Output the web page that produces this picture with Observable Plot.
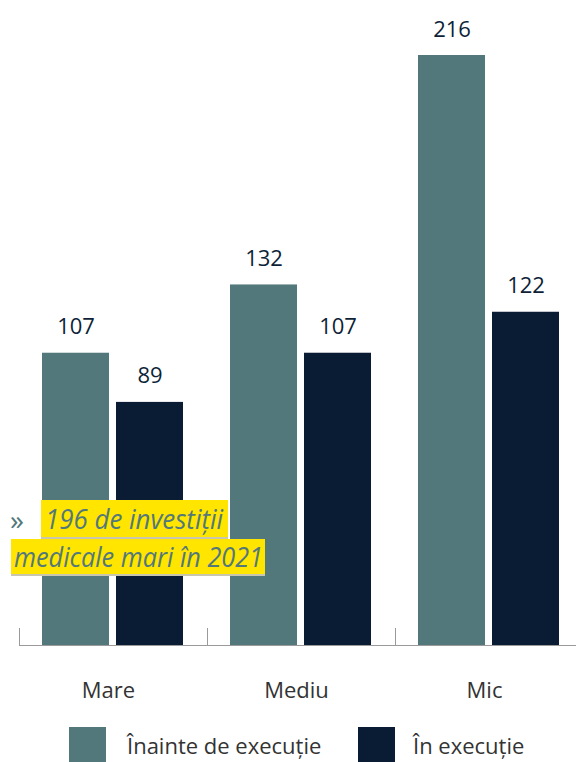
<!DOCTYPE html>
<html>
<head>
<meta charset="utf-8">
<script src="https://cdn.jsdelivr.net/npm/d3@7"></script>
<script src="https://cdn.jsdelivr.net/npm/@observablehq/plot@0.6"></script>
<style>
  html, body { margin: 0; padding: 0; background: #fff; }
  #wrap { position: relative; width: 576px; height: 762px; overflow: hidden; font-family: 'Open Sans', sans-serif; }
  #chart svg { display: block; }
  #legend { position: absolute; left: 0; top: 727px; width: 576px; height: 40px; }
  .sw { position: absolute; top: 0; width: 37px; height: 37px; }
  .lt { position: absolute; top: 0; line-height: 36px; font-size: 22px; color: #333; white-space: nowrap; }
  .nb { position: absolute; background: #ffe500; border-bottom: 2px solid #c9c6b0; box-sizing: border-box; overflow: visible; }
  .nb span { position: absolute; top: 0; white-space: nowrap; font-style: italic; font-size: 28px; color: #52787b; transform-origin: 0 0; }
  #arrow { position: absolute; left: 10px; top: 500px; font-size: 28px; color: #52787b; line-height: 38px; }
</style>
</head>
<body>
<div id="wrap">
  <div id="chart"></div>
  <div id="legend"></div>
  <div id="arrow">»</div>
  <div class="nb" id="n1" style="left:41px;top:500px;width:187px;height:39px;"><span id="t1" style="left:4px;line-height:37px;">196 de investiții</span></div>
  <div class="nb" id="n2" style="left:11px;top:539px;width:254px;height:37px;"><span id="t2" style="left:3px;line-height:34px;">medicale mari în 2021</span></div>
</div>
<script>
const categories = ["Mare", "Mediu", "Mic"];
const series = ["Înainte de execuție", "În execuție"];
const beforeExec = [107, 132, 216];
const inExec = [89, 107, 122];
const colors = ["#52787b", "#0a1c33"];

const data = categories.flatMap((c, i) => [
  {cat: c, s: series[0], v: beforeExec[i]},
  {cat: c, s: series[1], v: inExec[i]}
]);

const chart = Plot.plot({
  width: 576,
  height: 715,
  marginTop: 55,
  marginBottom: 70,
  marginLeft: 19,
  marginRight: 0,
  style: {fontFamily: "'Open Sans', sans-serif", background: "transparent"},
  fx: {domain: categories, range: [19, 583], padding: 0, label: null},
  x: {domain: series, paddingInner: 0.0933, paddingOuter: 0.3, axis: null},
  y: {domain: [0, 216], axis: null},
  color: {domain: series, range: colors},
  marks: [
    Plot.barY(data, {fx: "cat", x: "s", y: "v", fill: "s"}),
    Plot.text(data, {fx: "cat", x: "s", y: "v", text: "v", dy: -19, lineAnchor: "bottom", fontSize: 22, fill: "#0e1f38"}),
    Plot.ruleY([0], {stroke: "#9a9a9a", strokeWidth: 1}),
    Plot.frame({anchor: "left", insetTop: 573, stroke: "#9a9a9a", strokeWidth: 1}),
    Plot.axisFx({anchor: "bottom", tickSize: 0, tickPadding: 37, dx: -5, fontSize: 22, fill: "#333", label: null})
  ]
});
document.getElementById("chart").appendChild(chart);

// legend
const legend = document.getElementById("legend");
const legPos = [{sx: 69, tx: 127}, {sx: 358, tx: 413}];
series.forEach((s, i) => {
  const sw = document.createElement("div");
  sw.className = "sw";
  sw.style.left = legPos[i].sx + "px";
  sw.style.background = colors[i];
  legend.appendChild(sw);
  const t = document.createElement("div");
  t.className = "lt";
  t.style.left = legPos[i].tx + "px";
  t.textContent = s;
  legend.appendChild(t);
});

// fit annotation text to target widths
function fit(id, target) {
  const el = document.getElementById(id);
  const w = el.getBoundingClientRect().width;
  el.style.transform = `scaleX(${target / w})`;
}
fit("t1", 178);
fit("t2", 249);
</script>
</body>
</html>
